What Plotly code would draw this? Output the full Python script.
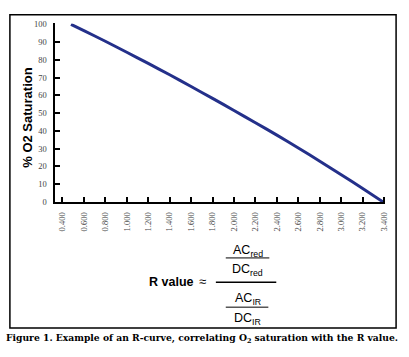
import plotly.graph_objects as go

# Data
r_values = [0.48, 0.6, 0.8, 1.0, 1.2, 1.4, 1.6, 1.8, 2.0, 2.2, 2.4, 2.6, 2.8, 3.0, 3.2, 3.39]
o2_saturation = [100, 96.5, 90.5, 84.3, 78.0, 71.6, 65.0, 58.3, 51.5, 44.6, 37.6, 30.4, 22.9, 15.3, 7.6, 0]
x_ticks = [0.4, 0.6, 0.8, 1.0, 1.2, 1.4, 1.6, 1.8, 2.0, 2.2, 2.4, 2.6, 2.8, 3.0, 3.2, 3.4]
y_ticks = [0, 10, 20, 30, 40, 50, 60, 70, 80, 90, 100]

W, H = 409, 357


def px(x):
    return x / W


def py(y):
    return 1 - y / H


fig = go.Figure()
fig.add_trace(go.Scatter(
    x=r_values, y=o2_saturation, mode="lines",
    line=dict(color="#24308a", width=3, shape="spline", smoothing=0.6), showlegend=False,
))

tick_font = dict(family="Liberation Serif", size=8.5, color="#444444")

fig.update_layout(
    width=W, height=H,
    margin=dict(l=0, r=0, t=0, b=0),
    paper_bgcolor="white", plot_bgcolor="white",
    xaxis=dict(
        domain=[px(56), px(389)], range=[0.335, 3.41],
        tickvals=x_ticks, tickformat=".3f", tickangle=-90,
        ticks="inside", ticklen=5, tickwidth=1.5, tickcolor="black",
        showline=True, linewidth=2, linecolor="black",
        showgrid=False, zeroline=False, tickfont=tick_font,
        ticklabelstandoff=5,
    ),
    yaxis=dict(
        domain=[py(203), py(20)], range=[0, 100.5],
        tickvals=y_ticks,
        ticks="inside", ticklen=5, tickwidth=1.5, tickcolor="black",
        showline=True, linewidth=2, linecolor="black",
        showgrid=False, zeroline=False, tickfont=tick_font,
        ticklabelstandoff=5,
    ),
)

shapes = [
    dict(type="rect", xref="paper", yref="paper", x0=px(10), x1=px(400), y0=py(332.5), y1=py(11),
         line=dict(color="black", width=1.5)),
    dict(type="line", xref="paper", yref="paper", x0=px(218), x1=px(279), y0=py(285.5), y1=py(285.5),
         line=dict(color="black", width=1.5)),
    dict(type="line", xref="paper", yref="paper", x0=px(228), x1=px(272), y0=py(260.5), y1=py(260.5),
         line=dict(color="black", width=1)),
    dict(type="line", xref="paper", yref="paper", x0=px(228), x1=px(271), y0=py(311), y1=py(311),
         line=dict(color="black", width=1)),
]
fig.update_layout(shapes=shapes)

sans = "Liberation Sans"


def ann(text, x, y, size, family=sans, angle=0, color="black"):
    fig.add_annotation(text=text, xref="paper", yref="paper", x=px(x), y=py(y),
                       xanchor="center", yanchor="middle", showarrow=False,
                       textangle=angle, font=dict(family=family, size=size, color=color))


ann("<b>% O2 Saturation</b>", 27, 117, 13, angle=-90)
ann("<b>R value</b>", 173, 285.5, 12.5)
ann("≈", 204, 284.5, 13)
ann("AC<sub>red</sub>", 250, 253, 12.5)
ann("DC<sub>red</sub>", 250, 273, 12.5)
ann("AC<sub>IR</sub>", 250, 303, 12.5)
ann("DC<sub>IR</sub>", 250, 323.5, 12.5)
ann("<b>Figure 1. Example of an R-curve, correlating O<sub>2</sub> saturation with the R value.</b>",
    204, 343, 9.2, family="DejaVu Serif")

fig.write_html(
    "out.html", config={"displayModeBar": False},
    post_script=("document.body.style.margin='0';"
                 "document.body.style.height='357px';"
                 "document.body.style.overflow='hidden';"
                 "document.documentElement.style.overflow='hidden';"),
)
